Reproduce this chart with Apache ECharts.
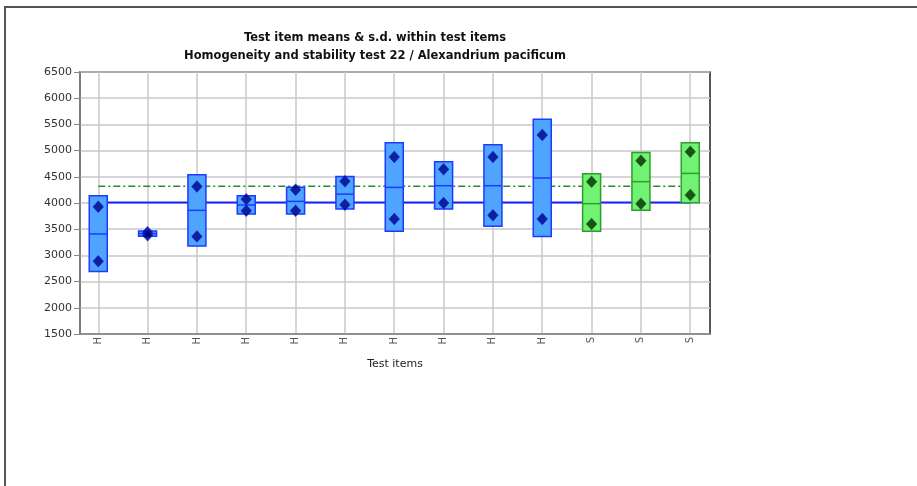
<!DOCTYPE html>
<html>
<head>
<meta charset="utf-8">
<script src="https://cdn.jsdelivr.net/npm/echarts@6/dist/echarts.min.js"></script>
<style>html,body{margin:0;padding:0;background:#fff;}#c{width:917px;height:486px;}</style>
</head>
<body>
<div id="c"></div>
<script>
var categories = ['H','H','H','H','H','H','H','H','H','H','S','S','S'];
var groups     = ['H','H','H','H','H','H','H','H','H','H','S','S','S'];
var boxLow   = [2695, 3365, 3180, 3790, 3790, 3886, 3459, 3886, 3555, 3363, 3459, 3860, 4006];
var boxHigh  = [4140, 3465, 4540, 4140, 4300, 4508, 5151, 4789, 5113, 5598, 4560, 4966, 5151];
var itemMean = [3409, 3415, 3860, 3962, 4031, 4170, 4298, 4330, 4330, 4477, 3987, 4407, 4565];
var rep1     = [3930, 3440, 4317, 4071, 4254, 4413, 4878, 4642, 4878, 5298, 4407, 4808, 4979];
var rep2     = [2887, 3383, 3363, 3853, 3853, 3968, 3695, 4000, 3764, 3695, 3600, 3987, 4153];
var grandMeanH = 4010;
var grandMeanAll = 4320;
var yTicks = [1500, 2000, 2500, 3000, 3500, 4000, 4500, 5000, 5500, 6000, 6500];

var FONT = 'DejaVu Sans';
var colors = {
  H: {fill: '#4ea4ff', stroke: '#1b3cff', dot: '#00007a', dotBorder: '#0a14d0'},
  S: {fill: '#72f272', stroke: '#2e9e2e', dot: '#012a01', dotBorder: '#0f5a0f'}
};

var boxData = categories.map(function (c, i) { return [i, boxLow[i], boxHigh[i], itemMean[i]]; });
var hDots = [], sDots = [];
categories.forEach(function (c, i) {
  var arr = groups[i] === 'H' ? hDots : sDots;
  arr.push([i, rep1[i]]); arr.push([i, rep2[i]]);
});
var last = categories.length - 1;

var chart = echarts.init(document.getElementById('c'), null, {renderer: 'canvas'});
chart.setOption({
  animation: false,
  backgroundColor: '#fff',
  title: {
    text: 'Test item means & s.d. within test items\nHomogeneity and stability test 22 / Alexandrium pacificum',
    left: 370, top: 24, textAlign: 'center',
    textStyle: {fontFamily: FONT, fontSize: 11.5, fontWeight: 'bold', color: '#111', lineHeight: 18}
  },
  graphic: [{
    type: 'polyline', silent: true,
    shape: {points: [[5, 486], [5, 7], [917, 7]]},
    style: {stroke: '#555', lineWidth: 2, fill: null}
  }],
  grid: [
    {left: 80, right: 207, top: 72, bottom: 152, show: true, borderColor: '#222', borderWidth: 1.5},
    {left: 98.25, right: 226.8, top: 72, bottom: 152}
  ],
  xAxis: [
    {type: 'value', gridIndex: 0, min: -0.37, max: 12.4,
     axisLine: {show: true, onZero: false, lineStyle: {color: '#888', width: 1.5}},
     axisTick: {show: false}, axisLabel: {show: false}, splitLine: {show: false},
     name: 'Test items', nameLocation: 'middle', nameGap: 25,
     nameTextStyle: {fontFamily: FONT, fontSize: 11, color: '#222'}},
    {type: 'category', gridIndex: 1, data: categories, boundaryGap: false,
     axisLine: {show: false}, axisTick: {show: false},
     axisLabel: {rotate: 90, margin: 3, fontFamily: FONT, fontSize: 10, color: '#555'},
     splitLine: {show: true, lineStyle: {color: '#c8c8c8', width: 1.5}}}
  ],
  yAxis: [
    {type: 'value', gridIndex: 0, min: yTicks[0], max: yTicks[yTicks.length - 1], interval: 500,
     axisLine: {show: true, onZero: false, lineStyle: {color: '#888', width: 1.5}},
     axisTick: {show: true, length: 6, lineStyle: {color: '#888'}},
     axisLabel: {fontFamily: FONT, fontSize: 11, color: '#333', margin: 8,
                 formatter: function (v) { return String(v); }},
     splitLine: {show: true, lineStyle: {color: '#c8c8c8', width: 1.5}}},
    {type: 'value', gridIndex: 1, min: yTicks[0], max: yTicks[yTicks.length - 1], show: false,
     axisLine: {show: false, onZero: false}, axisTick: {show: false}, axisLabel: {show: false},
     splitLine: {show: false}}
  ],
  series: [
    {type: 'line', xAxisIndex: 0, yAxisIndex: 0, z: 2, symbol: 'none',
     data: [[0, grandMeanAll], [last, grandMeanAll]],
     lineStyle: {color: '#2a8a2a', width: 1.5, type: [7, 3, 2, 3]}},
    {type: 'line', xAxisIndex: 0, yAxisIndex: 0, z: 2, symbol: 'none',
     data: [[0, grandMeanH], [last, grandMeanH]],
     lineStyle: {color: '#1a22ff', width: 2}},
    {type: 'custom', xAxisIndex: 0, yAxisIndex: 0, z: 3, data: boxData,
     renderItem: function (params, api) {
       var i = api.value(0);
       var c = colors[groups[i]];
       var lo = api.coord([i, api.value(1)]);
       var hi = api.coord([i, api.value(2)]);
       var mid = api.coord([i, api.value(3)]);
       var w = 18;
       return {type: 'group', children: [
         {type: 'rect', shape: {x: lo[0] - w / 2, y: hi[1], width: w, height: lo[1] - hi[1]},
          style: {fill: c.fill, stroke: c.stroke, lineWidth: 1.5}},
         {type: 'line', shape: {x1: lo[0] - w / 2, y1: mid[1], x2: lo[0] + w / 2, y2: mid[1]},
          style: {stroke: c.stroke, lineWidth: 1.5}}
       ]};
     }},
    {type: 'scatter', xAxisIndex: 0, yAxisIndex: 0, z: 4, symbol: 'diamond', symbolSize: [10, 11],
     data: hDots, itemStyle: {color: colors.H.dot, borderColor: colors.H.dotBorder, borderWidth: 1}},
    {type: 'scatter', xAxisIndex: 0, yAxisIndex: 0, z: 4, symbol: 'diamond', symbolSize: [10, 11],
     data: sDots, itemStyle: {color: colors.S.dot, borderColor: colors.S.dotBorder, borderWidth: 1}}
  ]
});
</script>
</body>
</html>
